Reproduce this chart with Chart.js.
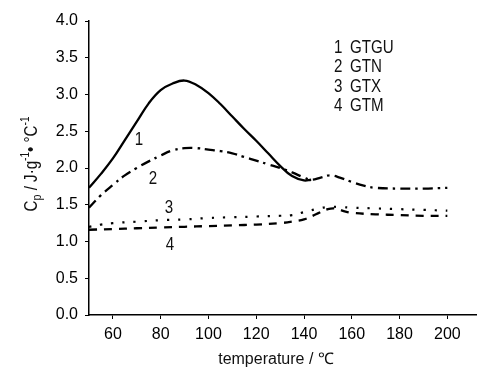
<!DOCTYPE html>
<html><head><meta charset="utf-8">
<script src="https://cdn.jsdelivr.net/npm/chart.js@4.4.0/dist/chart.umd.min.js"></script>
<style>html,body{margin:0;padding:0;background:#fff}</style>
</head><body>
<canvas id="c" width="478" height="369"></canvas>
<script>
// ---- data ----
const xTickValues = [60, 80, 100, 120, 140, 160, 180, 200];
const yTickValues = [0, 0.5, 1, 1.5, 2, 2.5, 3, 3.5, 4];
const seriesNames = ["GTGU", "GTN", "GTX", "GTM"];

const temp1 = [50,55,60,65,70,75,80,85,90,95,100,105,110,115,120,125,130,135,140,143];
const cp1   = [1.73,1.92,2.13,2.38,2.63,2.88,3.06,3.15,3.19,3.13,3.02,2.87,2.70,2.53,2.37,2.20,2.03,1.89,1.83,1.84];

const temp2 = [50,55,60,65,70,75,80,85,90,95,100,105,110,115,120,125,130,135,140,143,147,151,155,160,165,170,180,190,200];
const cp2   = [1.46,1.63,1.77,1.90,2.00,2.09,2.17,2.24,2.27,2.27,2.25,2.23,2.20,2.15,2.10,2.05,2.00,1.94,1.87,1.84,1.87,1.90,1.87,1.81,1.76,1.73,1.72,1.72,1.73];

const temp3 = [50,55,60,70,80,90,100,110,120,130,135,140,145,150,155,160,170,180,190,200];
const cp3   = [1.20,1.23,1.25,1.27,1.29,1.30,1.32,1.33,1.34,1.35,1.36,1.40,1.44,1.47,1.47,1.46,1.45,1.44,1.43,1.42];

const temp4 = [50,60,70,80,90,100,110,120,130,135,140,145,150,153,157,160,170,180,190,200];
const cp4   = [1.16,1.17,1.18,1.19,1.20,1.21,1.22,1.23,1.25,1.27,1.30,1.37,1.44,1.45,1.41,1.39,1.37,1.36,1.35,1.35];

const pts = (xs, ys) => xs.map((x, i) => ({x: x, y: ys[i]}));

const REG = '"Liberation Sans", Arial, sans-serif';
const SQ = 0.84; // horizontal condensing for the narrow-looking annotation font

function narrowText(ctx, txt, x, y, align) {
  ctx.save();
  ctx.translate(x, y);
  ctx.scale(SQ, 1);
  ctx.textAlign = align || 'left';
  ctx.fillText(txt, 0, 0);
  ctx.restore();
}

const annot = {
  id: 'annot',
  afterDraw(chart) {
    const ctx = chart.ctx;
    ctx.save();
    ctx.fillStyle = '#111';
    ctx.textBaseline = 'alphabetic';
    // legend text block
    ctx.font = '18px ' + REG;
    const baseY = [52.5, 72, 91.5, 111];
    seriesNames.forEach((n, i) => {
      narrowText(ctx, String(i + 1), 334, baseY[i]);
      narrowText(ctx, n, 350, baseY[i]);
    });
    // curve labels
    narrowText(ctx, '1', 139, 144.5, 'center');
    narrowText(ctx, '2', 153, 183.5, 'center');
    narrowText(ctx, '3', 169, 212.5, 'center');
    narrowText(ctx, '4', 170, 250, 'center');
    // x title
    ctx.font = '16px ' + REG;
    ctx.textAlign = 'center';
    ctx.fillText('temperature / \u2103', 276, 364);
    // y title (rotated, with sub/superscripts)
    const segs = [
      {t: 'C', s: 18, dy: 0},
      {t: 'p', s: 13, dy: 4},
      {t: ' / J\u00B7g', s: 18, dy: 0},
      {t: '-1', s: 12, dy: -8},
      {t: '\u2022 \u00B0C', s: 18, dy: 0},
      {t: '-1', s: 12, dy: -8}
    ];
    let total = 0;
    segs.forEach(g => { ctx.font = g.s + 'px ' + REG; g.w = ctx.measureText(g.t).width * SQ; total += g.w; });
    ctx.translate(37, 164);
    ctx.rotate(-Math.PI / 2);
    let x = -total / 2;
    segs.forEach(g => { ctx.font = g.s + 'px ' + REG; narrowText(ctx, g.t, x, g.dy); x += g.w; });
    ctx.restore();
  }
};

const lineBase = {borderColor: '#000', pointRadius: 0, borderWidth: 2.3, fill: false, tension: 0.4};

new Chart(document.getElementById('c'), {
  type: 'line',
  data: {
    datasets: [
      Object.assign({label: seriesNames[0], data: pts(temp1, cp1)}, lineBase),
      Object.assign({label: seriesNames[1], data: pts(temp2, cp2), borderDash: [10, 5, 2.5, 5]}, lineBase),
      Object.assign({label: seriesNames[2], data: pts(temp3, cp3), borderDash: [2.2, 9]}, lineBase, {borderWidth: 2.2}),
      Object.assign({label: seriesNames[3], data: pts(temp4, cp4), borderDash: [8, 7]}, lineBase)
    ]
  },
  options: {
    responsive: false,
    animation: false,
    layout: {padding: {left: 0, top: 21, right: 2, bottom: 0}},
    plugins: {legend: {display: false}, tooltip: {enabled: false}},
    scales: {
      x: {
        type: 'linear', min: 50, max: 212,
        afterBuildTicks: s => { s.ticks = xTickValues.map(v => ({value: v})); },
        afterFit: s => { s.height = 54; },
        border: {display: true, color: '#000', width: 1.5},
        grid: {display: true, drawOnChartArea: false, drawTicks: true, tickLength: 4, color: '#000'},
        ticks: {autoSkip: false, maxRotation: 0, padding: 6, color: '#000', font: {family: REG, size: 16}, callback: v => String(v)}
      },
      y: {
        min: 0, max: 4,
        afterBuildTicks: s => { s.ticks = yTickValues.map(v => ({value: v})); },
        afterFit: s => { s.width = 89; },
        border: {display: true, color: '#000', width: 1.5},
        grid: {display: true, drawOnChartArea: false, drawTicks: true, tickLength: 4, color: '#000'},
        ticks: {padding: 7, color: '#000', font: {family: REG, size: 16}, callback: v => Number(v).toFixed(1)}
      }
    }
  },
  plugins: [annot]
});
</script>
</body></html>
